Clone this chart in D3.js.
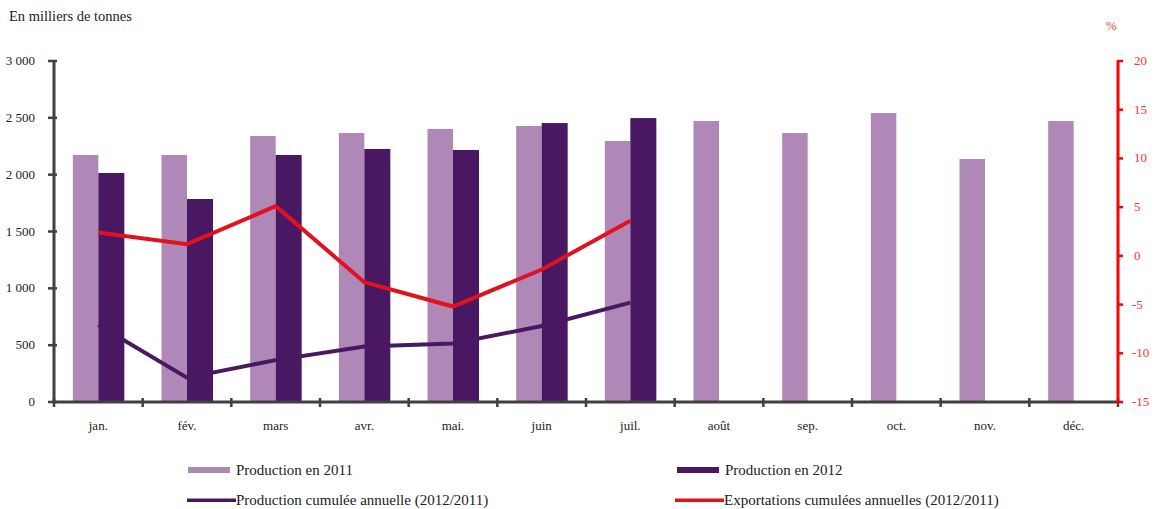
<!DOCTYPE html>
<html>
<head>
<meta charset="utf-8">
<script src="https://cdn.jsdelivr.net/npm/d3@7"></script>
<style>
  body { margin: 0; background: #fff; }
  text { font-family: "Liberation Serif", "DejaVu Serif", serif; }
</style>
</head>
<body>
<div class="canvas"></div>
<script>
// what to show
var months = ['jan.', 'fév.', 'mars', 'avr.', 'mai.', 'juin', 'juil.', 'août', 'sep.', 'oct.', 'nov.', 'déc.'];
var prod2011 = [2173, 2173, 2340, 2366, 2402, 2428, 2296, 2472, 2366, 2542, 2138, 2472];
var prod2012 = [2015, 1786, 2173, 2226, 2217, 2454, 2498];
var prodCumul = [-7.1, -12.5, -10.7, -9.3, -9.0, -7.2, -4.8];
var exportCumul = [2.4, 1.2, 5.1, -2.7, -5.2, -1.4, 3.6];
var leftTicks = [0, 500, 1000, 1500, 2000, 2500, 3000];
var rightTicks = [-15, -10, -5, 0, 5, 10, 15, 20];

// where does it live
var width = 1159, height = 509,
    margin = { top: 61, right: 41, bottom: 107, left: 54 },
    innerW = width - margin.left - margin.right,
    innerH = height - margin.top - margin.bottom;

var colLight = '#b088b8', colDark = '#4a1862', colRed = '#e0121e', axisCol = '#404040';

var svg = d3.select('.canvas').append('svg')
    .attr('width', width)
    .attr('height', height);

var g = svg.append('g')
    .attr('transform', 'translate(' + margin.left + ',' + margin.top + ')');

var x = d3.scaleBand().domain(months).range([0, innerW]);
var yL = d3.scaleLinear().domain([0, 3000]).range([innerH, 0]);
var yR = d3.scaleLinear().domain([-15, 20]).range([innerH, 0]);

var barW = 25.5;
var fmt = function (d) { return d3.format(',')(d).replace(',', ' '); };

// bars
g.selectAll('.b11').data(prod2011).enter().append('rect')
    .attr('x', function (d, i) { return x(months[i]) + x.bandwidth() / 2 - barW; })
    .attr('y', function (d) { return yL(d); })
    .attr('width', barW)
    .attr('height', function (d) { return innerH - yL(d); })
    .attr('fill', colLight);

g.selectAll('.b12').data(prod2012).enter().append('rect')
    .attr('x', function (d, i) { return x(months[i]) + x.bandwidth() / 2; })
    .attr('y', function (d) { return yL(d); })
    .attr('width', barW + 0.5)
    .attr('height', function (d) { return innerH - yL(d); })
    .attr('fill', colDark);

// lines
var cx = function (d, i) { return x(months[i]) + x.bandwidth() / 2; };
g.append('path').datum(prodCumul)
    .attr('fill', 'none').attr('stroke', colDark).attr('stroke-width', 4)
    .attr('d', d3.line().x(cx).y(function (d) { return yR(d); }));
g.append('path').datum(exportCumul)
    .attr('fill', 'none').attr('stroke', colRed).attr('stroke-width', 4)
    .attr('d', d3.line().x(cx).y(function (d) { return yR(d); }));

// left axis
var ax = g.append('g');
ax.append('line').attr('x1', 0).attr('x2', 0).attr('y1', 0).attr('y2', innerH)
    .attr('stroke', axisCol).attr('stroke-width', 3);
ax.selectAll('.lt').data(leftTicks).enter().append('line')
    .attr('x1', -6).attr('x2', 3)
    .attr('y1', function (d) { return yL(d); }).attr('y2', function (d) { return yL(d); })
    .attr('stroke', axisCol).attr('stroke-width', 2.5);
ax.selectAll('.ll').data(leftTicks).enter().append('text')
    .attr('x', -19).attr('y', function (d) { return yL(d) + 4; })
    .attr('text-anchor', 'end').attr('font-size', 13).attr('fill', '#222')
    .text(fmt);

// bottom axis
var bx = g.append('g').attr('transform', 'translate(0,' + innerH + ')');
bx.append('line').attr('x1', 0).attr('x2', innerW)
    .attr('stroke', axisCol).attr('stroke-width', 3);
bx.selectAll('.bt').data(d3.range(months.length + 1)).enter().append('line')
    .attr('x1', function (d) { return d * x.step(); }).attr('x2', function (d) { return d * x.step(); })
    .attr('y1', -4).attr('y2', 5)
    .attr('stroke', axisCol).attr('stroke-width', 2.5);
bx.selectAll('.bl').data(months).enter().append('text')
    .attr('x', function (d) { return x(d) + x.bandwidth() / 2; }).attr('y', 28)
    .attr('text-anchor', 'middle').attr('font-size', 13).attr('fill', '#222')
    .text(function (d) { return d; });

// right axis
var rx = g.append('g').attr('transform', 'translate(' + innerW + ',0)');
rx.append('line').attr('y1', 0).attr('y2', innerH)
    .attr('stroke', '#ff0000').attr('stroke-width', 3);
rx.selectAll('.rt').data(rightTicks).enter().append('line')
    .attr('x1', -1).attr('x2', 5)
    .attr('y1', function (d) { return yR(d); }).attr('y2', function (d) { return yR(d); })
    .attr('stroke', '#ff0000').attr('stroke-width', 2.5);
rx.selectAll('.rl').data(rightTicks).enter().append('text')
    .attr('x', function (d) { return d < 0 ? 14 : 16; }).attr('y', function (d) { return yR(d) + 4; })
    .attr('text-anchor', 'start').attr('font-size', 13).attr('fill', '#ff3030')
    .text(function (d) { return d; });

// titles
svg.append('text').attr('x', 9).attr('y', 21).attr('font-size', 14.5).attr('fill', '#222')
    .text('En milliers de tonnes');
svg.append('text').attr('x', 1106).attr('y', 30).attr('font-size', 13).attr('fill', '#ff4040')
    .text('%');

// legend
var legend = [
    { label: 'Production en 2011', color: colLight, type: 'box', x: 188, y: 470 },
    { label: 'Production en 2012', color: colDark, type: 'box', x: 677, y: 470 },
    { label: 'Production cumulée annuelle (2012/2011)', color: colDark, type: 'line', x: 187, y: 500 },
    { label: 'Exportations cumulées annuelles (2012/2011)', color: colRed, type: 'line', x: 675, y: 500 }
];
var lg = svg.selectAll('.lg').data(legend).enter().append('g')
    .attr('transform', function (d) { return 'translate(' + d.x + ',' + d.y + ')'; });
lg.append('rect')
    .attr('x', 0).attr('y', function (d) { return d.type === 'box' ? -3 : -1.5; })
    .attr('width', function (d) { return d.type === 'box' ? 42 : 49; })
    .attr('height', function (d) { return d.type === 'box' ? 6 : 3.5; })
    .attr('fill', function (d) { return d.color; });
lg.append('text')
    .attr('x', function (d) { return d.type === 'box' ? 48 : 49; })
    .attr('y', 4.5).attr('font-size', 15).attr('fill', '#222')
    .text(function (d) { return d.label; });
</script>
</body>
</html>
